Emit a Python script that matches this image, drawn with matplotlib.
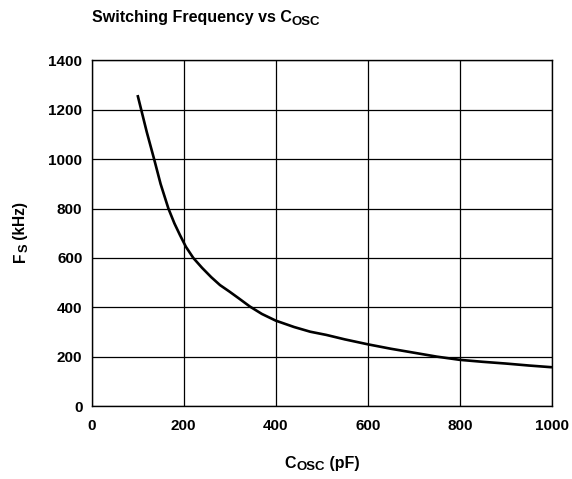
import matplotlib
matplotlib.use("Agg")
import matplotlib.pyplot as plt

# curve
c_osc = [100, 120, 136, 150, 167, 180, 192, 205, 221, 240, 260, 279, 300,
         320, 344, 370, 400, 440, 475, 510, 550, 600, 650, 700, 750, 800,
         850, 900, 950, 1000]
f_s = [1260, 1110, 1000, 900, 800, 740, 693, 645, 600, 560, 522, 490, 463,
       436, 403, 373, 346, 320, 301, 288, 270, 250, 232, 216, 200, 187,
       179, 172, 164, 157]

x_ticks = [0, 200, 400, 600, 800, 1000]
y_ticks = [0, 200, 400, 600, 800, 1000, 1200, 1400]

plt.rcParams["font.family"] = ["Liberation Sans", "DejaVu Sans"]
plt.rcParams["font.weight"] = "bold"

fig = plt.figure(figsize=(5.72, 4.79), dpi=100)
ax = fig.add_axes([0.16, 0.1524, 0.805, 0.7213])

ax.plot(c_osc, f_s, color="black", lw=1.9, solid_capstyle="butt")
ax.set_xlim(0, 1000)
ax.set_ylim(0, 1400)
ax.set_xticks(x_ticks)
ax.set_yticks(y_ticks)
ax.grid(True, color="black", lw=0.9)
ax.set_axisbelow(True)
for sp in ax.spines.values():
    sp.set_linewidth(1.0)
ax.tick_params(length=0, labelsize=11)
ax.tick_params(axis="y", pad=6.5)
ax.tick_params(axis="x", pad=9)
for lab in ax.get_xticklabels() + ax.get_yticklabels():
    lab.set_fontweight("bold")


def sub_text(parts, x, y, size=11.5, sub_size=9.5, rotation=0, ha="left"):
    """Write text pieces one after another on a common baseline; pieces
    flagged True are subscripts (smaller and dropped a little)."""
    fig.canvas.draw()
    r = fig.canvas.get_renderer()
    W, H = fig.bbox.width, fig.bbox.height
    widths = []
    for s, sub in parts:
        t = fig.text(0, 0, s.replace(" ", "\u00a0"), fontsize=sub_size if sub else size,
                     fontweight="bold")
        widths.append(t.get_window_extent(r).width)
        t.remove()
    total = sum(widths)
    px, py = x * W, y * H
    off = -total / 2 if ha == "center" else 0
    for (s, sub), w in zip(parts, widths):
        drop = -2.5 if sub else 0
        if rotation == 90:
            tx, ty = px - drop, py + off
        else:
            tx, ty = px + off, py + drop
        fig.text(tx / W, ty / H, s.replace(" ", "\u00a0"),
                 fontsize=sub_size if sub else size, fontweight="bold",
                 rotation=rotation, ha="left", va="baseline", rotation_mode="anchor")
        off += w


sub_text([("Switching Frequency vs C", False), ("OSC", True)], 0.161, 0.954,
         size=11.5, sub_size=9.5)
sub_text([("C", False), ("OSC", True), (" (pF)", False)], 0.563, 0.023, ha="center")
sub_text([("F", False), ("S", True), (" (kHz)", False)], 0.044, 0.516,
         size=11.2, sub_size=9.3, rotation=90, ha="center")

fig.savefig("out.png", dpi=100)
